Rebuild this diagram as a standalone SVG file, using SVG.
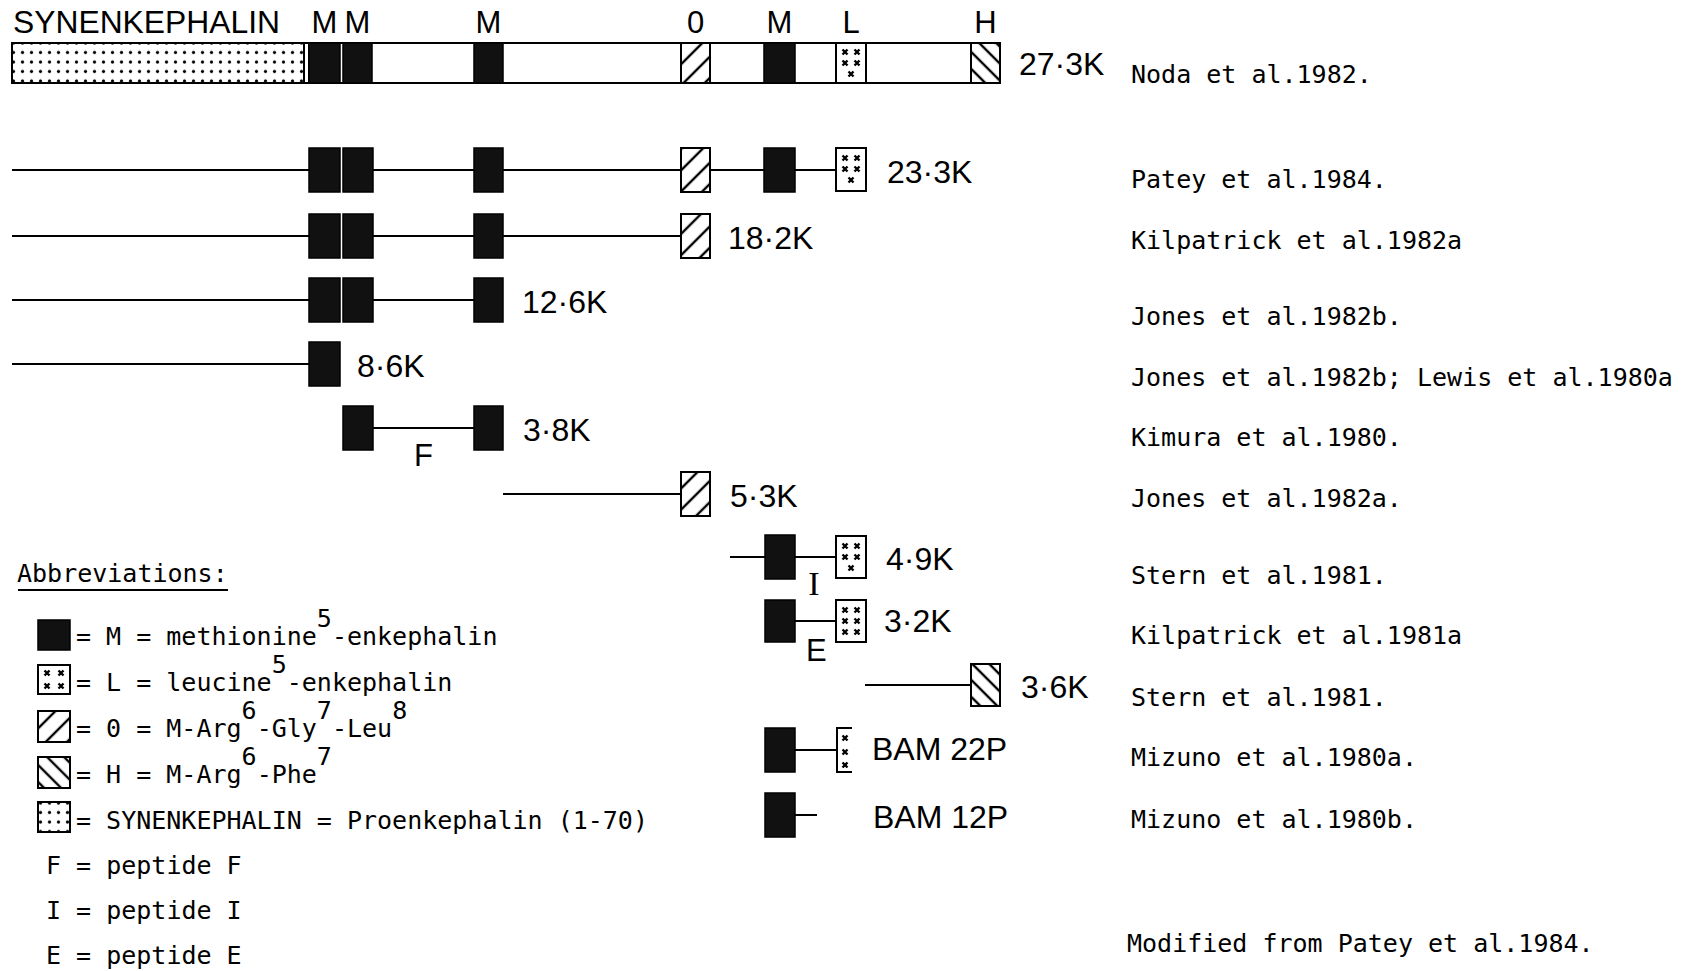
<svg xmlns="http://www.w3.org/2000/svg" xmlns:xlink="http://www.w3.org/1999/xlink" width="1690" height="971" viewBox="0 0 1690 971">
<style>
.bx{stroke:#000;stroke-width:2}
.m{fill:#111;stroke:#000;stroke-width:1.5}
.ln{stroke:#000;stroke-width:2;fill:none}
.lab{font-family:"Liberation Sans",Arial,sans-serif;font-size:32px;fill:#000}
.top{font-family:"Liberation Sans",Arial,sans-serif;font-size:31px;fill:#000}
.pep{font-family:"Liberation Sans",Arial,sans-serif;font-size:31px;fill:#000}
.ref{font-family:"DejaVu Sans Mono",monospace;font-size:25px;fill:#000}
.xm{stroke:#000;stroke-width:2.4;fill:none}
</style>
<defs>
<pattern id="stip" patternUnits="userSpaceOnUse" width="9" height="9.5">
<rect width="9" height="9.5" fill="#fff"/>
<circle cx="4.5" cy="5" r="1.6" fill="#000"/>
</pattern>
<pattern id="hO" patternUnits="userSpaceOnUse" width="15" height="15" patternTransform="rotate(45)">
<rect width="15" height="15" fill="#fff"/>
<line x1="2" y1="0" x2="2" y2="15" stroke="#000" stroke-width="2.4"/>
</pattern>
<pattern id="hH" patternUnits="userSpaceOnUse" width="12" height="12" patternTransform="rotate(-45)">
<rect width="12" height="12" fill="#fff"/>
<line x1="2" y1="0" x2="2" y2="12" stroke="#000" stroke-width="2.4"/>
</pattern>
<path id="x" class="xm" d="M-2.5,-2.5 L2.5,2.5 M2.5,-2.5 L-2.5,2.5"/>
<g id="lm5">
<use xlink:href="#x" x="9" y="10"/><use xlink:href="#x" x="21" y="10"/>
<use xlink:href="#x" x="9" y="21"/><use xlink:href="#x" x="21" y="21"/>
<use xlink:href="#x" x="15" y="32"/>
</g>
<g id="lm6">
<use xlink:href="#x" x="9" y="10"/><use xlink:href="#x" x="21" y="10"/>
<use xlink:href="#x" x="9" y="21"/><use xlink:href="#x" x="21" y="21"/>
<use xlink:href="#x" x="9" y="32"/><use xlink:href="#x" x="21" y="32"/>
</g>
</defs>
<rect width="1690" height="971" fill="#fff"/>

<g id="connectors">
<line class="ln" x1="12" y1="170" x2="309" y2="170"/>
<line class="ln" x1="373" y1="170" x2="474" y2="170"/>
<line class="ln" x1="503" y1="170" x2="681" y2="170"/>
<line class="ln" x1="710" y1="170" x2="764" y2="170"/>
<line class="ln" x1="795" y1="170" x2="836" y2="170"/>
<line class="ln" x1="12" y1="236" x2="309" y2="236"/>
<line class="ln" x1="373" y1="236" x2="474" y2="236"/>
<line class="ln" x1="503" y1="236" x2="681" y2="236"/>
<line class="ln" x1="12" y1="300" x2="309" y2="300"/>
<line class="ln" x1="373" y1="300" x2="474" y2="300"/>
<line class="ln" x1="12" y1="364" x2="309" y2="364"/>
<line class="ln" x1="373" y1="428" x2="474" y2="428"/>
<line class="ln" x1="503" y1="494" x2="681" y2="494"/>
<line class="ln" x1="730" y1="557" x2="765" y2="557"/>
<line class="ln" x1="795" y1="557" x2="836" y2="557"/>
<line class="ln" x1="795" y1="621" x2="836" y2="621"/>
<line class="ln" x1="865" y1="685" x2="971" y2="685"/>
<line class="ln" x1="795" y1="750" x2="837" y2="750"/>
<line class="ln" x1="795" y1="815" x2="817" y2="815"/>
</g>

<g id="row-noda">
<text class="top" x="13" y="33" textLength="267" lengthAdjust="spacingAndGlyphs">SYNENKEPHALIN</text>
<text class="top" x="324.5" y="33" text-anchor="middle">M</text>
<text class="top" x="357.5" y="33" text-anchor="middle">M</text>
<text class="top" x="488.5" y="33" text-anchor="middle">M</text>
<text class="top" x="695.5" y="33" text-anchor="middle">0</text>
<text class="top" x="779.5" y="33" text-anchor="middle">M</text>
<text class="top" x="851" y="33" text-anchor="middle">L</text>
<text class="top" x="985.5" y="33" text-anchor="middle">H</text>
<rect class="bx" x="12" y="43" width="988" height="40" fill="#fff"/>
<rect class="bx" x="12" y="43" width="292" height="40" fill="url(#stip)"/>
<line class="ln" x1="309" y1="43" x2="309" y2="83"/>
<rect class="m" x="309" y="43" width="31" height="40"/>
<rect class="m" x="343" y="43" width="29" height="40"/>
<rect class="m" x="474" y="43" width="29" height="40"/>
<rect class="bx" x="681" y="43" width="29" height="40" fill="url(#hO)"/>
<rect class="m" x="764" y="43" width="31" height="40"/>
<rect class="bx" x="836" y="43" width="30" height="40" fill="#fff"/>
<use xlink:href="#lm5" x="836" y="42"/>
<rect class="bx" x="971" y="43" width="29" height="40" fill="url(#hH)"/>
<text class="lab" x="1019" y="75">27·3K</text>
</g>

<g id="row-patey">
<rect class="m" x="309" y="148" width="31" height="44"/>
<rect class="m" x="343" y="148" width="30" height="44"/>
<rect class="m" x="474" y="148" width="29" height="44"/>
<rect class="bx" x="681" y="148" width="29" height="44" fill="url(#hO)"/>
<rect class="m" x="764" y="148" width="31" height="44"/>
<rect class="bx" x="836" y="148" width="30" height="43" fill="#fff"/>
<use xlink:href="#lm5" x="836" y="148"/>
<text class="lab" x="887" y="183">23·3K</text>
</g>

<g id="row-kilpatrick1982">
<rect class="m" x="309" y="214" width="31" height="44"/>
<rect class="m" x="343" y="214" width="30" height="44"/>
<rect class="m" x="474" y="214" width="29" height="44"/>
<rect class="bx" x="681" y="214" width="29" height="44" fill="url(#hO)"/>
<text class="lab" x="728" y="249">18·2K</text>
</g>

<g id="row-jones1982b">
<rect class="m" x="309" y="278" width="31" height="44"/>
<rect class="m" x="343" y="278" width="30" height="44"/>
<rect class="m" x="474" y="278" width="29" height="44"/>
<text class="lab" x="522" y="313">12·6K</text>
</g>

<g id="row-lewis">
<rect class="m" x="309" y="342" width="31" height="44"/>
<text class="lab" x="357" y="377">8·6K</text>
</g>

<g id="row-kimura">
<rect class="m" x="343" y="406" width="30" height="44"/>
<rect class="m" x="474" y="406" width="29" height="44"/>
<text class="pep" x="414" y="466">F</text>
<text class="lab" x="523" y="441">3·8K</text>
</g>

<g id="row-jones1982a">
<rect class="bx" x="681" y="472" width="29" height="44" fill="url(#hO)"/>
<text class="lab" x="730" y="507">5·3K</text>
</g>

<g id="row-stern1">
<rect class="m" x="765" y="535" width="30" height="44"/>
<rect class="bx" x="836" y="536" width="30" height="42" fill="#fff"/>
<use xlink:href="#lm5" x="836" y="536"/>
<text x="814" y="595" text-anchor="middle" font-family="Liberation Serif, serif" font-size="34">I</text>
<text class="lab" x="886" y="570">4·9K</text>
</g>

<g id="row-kilpatrick1981">
<rect class="m" x="765" y="600" width="30" height="42"/>
<rect class="bx" x="836" y="600" width="30" height="42" fill="#fff"/>
<use xlink:href="#lm6" x="836" y="600"/>
<text class="pep" x="806" y="661">E</text>
<text class="lab" x="884" y="632">3·2K</text>
</g>

<g id="row-stern2">
<rect class="bx" x="971" y="664" width="29" height="42" fill="url(#hH)"/>
<text class="lab" x="1021" y="698">3·6K</text>
</g>

<g id="row-mizuno-a">
<rect class="m" x="765" y="728" width="30" height="44"/>
<path class="ln" d="M852,728 H837 V772 H852"/>
<use xlink:href="#x" x="845" y="738"/>
<use xlink:href="#x" x="845" y="752"/>
<use xlink:href="#x" x="845" y="765"/>
<text class="lab" x="872" y="760">BAM 22P</text>
</g>

<g id="row-mizuno-b">
<rect class="m" x="765" y="793" width="30" height="44"/>
<text class="lab" x="873" y="828">BAM 12P</text>
</g>

<g id="references">
<text class="ref" x="1131" y="83">Noda et al.1982.</text>
<text class="ref" x="1131" y="188">Patey et al.1984.</text>
<text class="ref" x="1131" y="249">Kilpatrick et al.1982a</text>
<text class="ref" x="1131" y="325">Jones et al.1982b.</text>
<text class="ref" x="1131" y="386">Jones et al.1982b; Lewis et al.1980a</text>
<text class="ref" x="1131" y="446">Kimura et al.1980.</text>
<text class="ref" x="1131" y="507">Jones et al.1982a.</text>
<text class="ref" x="1131" y="584">Stern et al.1981.</text>
<text class="ref" x="1131" y="644">Kilpatrick et al.1981a</text>
<text class="ref" x="1131" y="706">Stern et al.1981.</text>
<text class="ref" x="1131" y="766">Mizuno et al.1980a.</text>
<text class="ref" x="1131" y="828">Mizuno et al.1980b.</text>
<text class="ref" x="1127" y="952">Modified from Patey et al.1984.</text>
</g>

<g id="legend">
<text class="ref" x="17" y="582">Abbreviations:</text>
<line class="ln" x1="18" y1="590" x2="228" y2="590"/>
<rect class="m" x="38" y="620" width="32" height="30"/>
<text class="ref" x="76" y="645">= M = methionine<tspan dy="-18">5</tspan><tspan dy="18">-enkephalin</tspan></text>
<rect class="bx" x="38" y="665" width="32" height="29" fill="#fff"/>
<use xlink:href="#x" x="47" y="673"/><use xlink:href="#x" x="61" y="673"/>
<use xlink:href="#x" x="47" y="686"/><use xlink:href="#x" x="61" y="686"/>
<text class="ref" x="76" y="691">= L = leucine<tspan dy="-18">5</tspan><tspan dy="18">-enkephalin</tspan></text>
<rect class="bx" x="38" y="711" width="32" height="31" fill="url(#hO)"/>
<text class="ref" x="76" y="737">= 0 = M-Arg<tspan dy="-18">6</tspan><tspan dy="18">-Gly</tspan><tspan dy="-18">7</tspan><tspan dy="18">-Leu</tspan><tspan dy="-18">8</tspan></text>
<rect class="bx" x="38" y="757" width="32" height="31" fill="url(#hH)"/>
<text class="ref" x="76" y="783">= H = M-Arg<tspan dy="-18">6</tspan><tspan dy="18">-Phe</tspan><tspan dy="-18">7</tspan></text>
<rect class="bx" x="38" y="802" width="32" height="30" fill="url(#stip)"/>
<text class="ref" x="76" y="829">= SYNENKEPHALIN = Proenkephalin (1-70)</text>
<text class="ref" x="46" y="874">F = peptide F</text>
<text class="ref" x="46" y="919">I = peptide I</text>
<text class="ref" x="46" y="964">E = peptide E</text>
</g>
</svg>
